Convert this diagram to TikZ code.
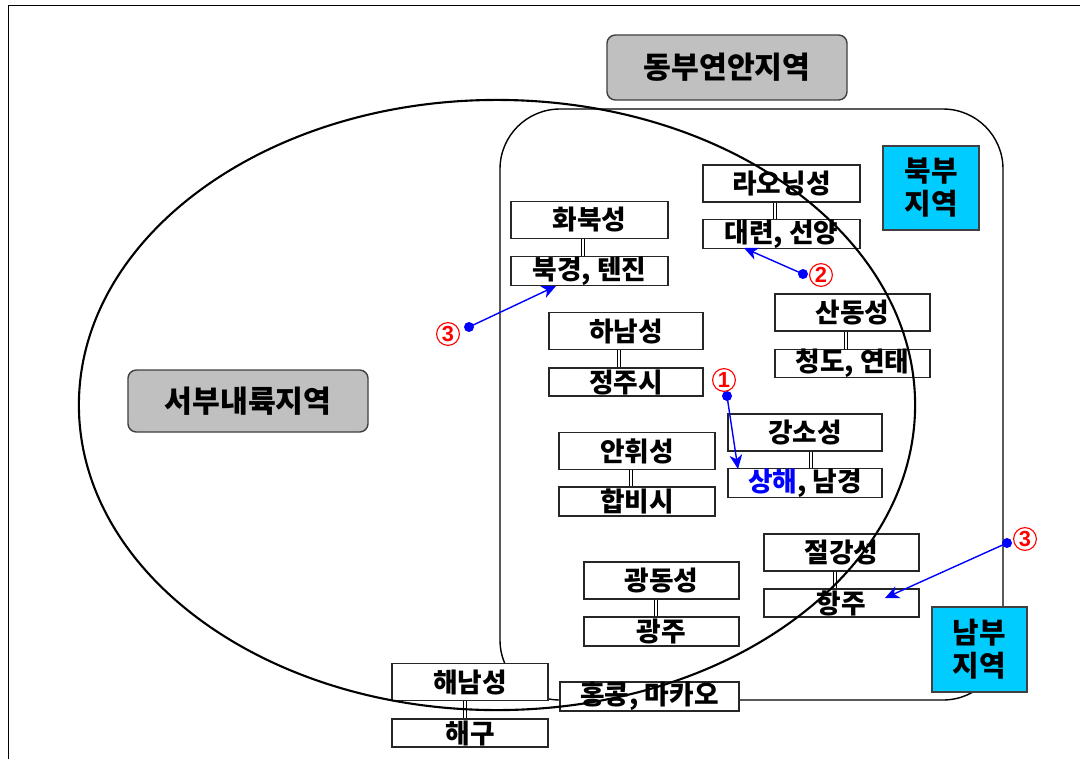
\documentclass[tikz,border=0pt]{standalone}
\usepackage{fontspec}
\newfontfamily\krfont{Noto Sans CJK KR}
\newfontfamily\latfont{Liberation Sans}
\usetikzlibrary{arrows.meta,calc}
\definecolor{boxgray}{HTML}{C0C0C0}
\definecolor{regcyan}{HTML}{00CCFF}
\definecolor{arrblue}{HTML}{0000FF}
\definecolor{numred}{HTML}{FF0000}
\tikzset{
  box/.style={draw=black!85, line width=0.9pt, fill=white, inner sep=0pt,
    minimum width=3.88cm, font=\krfont\bfseries\fontsize{19pt}{21pt}\selectfont},
  prov/.style={box, minimum height=0.92cm},
  city/.style={box, minimum height=0.7cm},
  region/.style={draw=black!75, line width=1pt, fill=boxgray, rounded corners=6pt,
    inner sep=0pt, minimum width=6cm,
    font=\krfont\bfseries\fontsize{21.5pt}{24pt}\selectfont},
  zone/.style={draw=black!75, line width=1pt, fill=regcyan, inner sep=0pt,
    align=center, font=\krfont\bfseries\fontsize{20.5pt}{23.4pt}\selectfont},
  dbl/.style={draw=black, line width=0.6pt, double=white, double distance=1.4pt},
  arr/.style={draw=arrblue, line width=1pt, -{Stealth[length=10pt,width=9pt,inset=3pt]}},
  bdot/.style={circle, fill=arrblue, inner sep=0pt, minimum size=0.25cm},
  num/.style={circle, draw=numred, line width=0.8pt, text=numred, inner sep=0pt,
    minimum size=0.57cm, font=\latfont\bfseries\fontsize{15.5pt}{15.5pt}\selectfont}
}
\begin{document}
\begin{tikzpicture}[x=0.025cm,y=-0.025cm]
\useasboundingbox (0,0) rectangle (1080,759);
% frame
\draw[line width=0.7pt] (8,759) -- (8,5) -- (1080,5);
% east coast rounded region
\draw[line width=1pt, rounded corners=1.5cm] (500,109) rectangle (1003,700);
% region labels
\node[region, minimum height=1.625cm] (east) at (727,67.5) {동부연안지역};
\node[region, minimum height=1.55cm] (west) at (248,401) {서부내륙지역};
\node[zone, minimum width=2.4cm, minimum height=2.1cm] (north) at (931,188) {북부\\지역};
\node[zone, minimum width=2.375cm, minimum height=2.125cm] (south) at (979.5,649.5) {남부\\지역};
% province / city boxes
\node[prov, minimum width=3.925cm] (hwabuk) at (589.5,220) {화북성};
\node[city, minimum width=3.925cm] (beijing) at (589.5,271) {북경, 텐진};
\node[prov, minimum width=3.925cm] (liaoning) at (781.5,183.5) {라오닝성};
\node[city, minimum width=3.925cm] (dalian) at (781.5,234) {대련, 선양};
\node[prov, minimum width=3.875cm] (shandong) at (852.5,312.5) {산동성};
\node[city, minimum width=3.875cm, minimum height=0.675cm] (qingdao) at (852.5,363.5) {청도, 연태};
\node[prov, minimum width=3.85cm] (henan) at (626,331) {하남성};
\node[city, minimum width=3.85cm] (zhengzhou) at (626,382) {정주시};
\node[prov, minimum width=3.85cm] (jiangsu) at (805,432.5) {강소성};
\node[city, minimum width=3.85cm] (shanghai) at (805,483) {{\color{arrblue}상해}, 남경};
\node[prov, minimum width=3.9cm] (anhui) at (637,451) {안휘성};
\node[city, minimum width=3.9cm, minimum height=0.725cm] (hefei) at (637,501.5) {합비시};
\node[prov, minimum width=3.875cm] (zhejiang) at (841.5,552.5) {절강성};
\node[city, minimum width=3.875cm] (hangzhou) at (841.5,603) {항주};
\node[prov, minimum width=3.875cm] (guangdong) at (661.5,580.5) {광동성};
\node[city, minimum width=3.875cm, minimum height=0.725cm] (guangzhou) at (661.5,631.5) {광주};
\node[prov, minimum width=3.9cm] (hainan) at (470,682) {해남성};
\node[city, minimum width=3.9cm] (haikou) at (470,733) {해구};
\node[city, minimum width=4.475cm, minimum height=0.725cm] (hongkong) at (649.5,696.5) {홍콩, 마카오};
% double connectors
\draw[dbl] ([xshift=-0.16cm]hwabuk.south) -- ([xshift=-0.16cm]beijing.north);
\draw[dbl] ([xshift=-0.16cm]liaoning.south) -- ([xshift=-0.16cm]dalian.north);
\draw[dbl] ([xshift=-0.16cm]shandong.south) -- ([xshift=-0.16cm]qingdao.north);
\draw[dbl] ([xshift=-0.17cm]henan.south) -- ([xshift=-0.17cm]zhengzhou.north);
\draw[dbl] ([xshift=0.15cm]jiangsu.south) -- ([xshift=0.15cm]shanghai.north);
\draw[dbl] ([xshift=-0.15cm]anhui.south) -- ([xshift=-0.15cm]hefei.north);
\draw[dbl] ([xshift=-0.16cm]zhejiang.south) -- ([xshift=-0.16cm]hangzhou.north);
\draw[dbl] ([xshift=-0.14cm]guangdong.south) -- ([xshift=-0.14cm]guangzhou.north);
\draw[dbl] ([xshift=-0.12cm]hainan.south) -- ([xshift=-0.12cm]haikou.north);
% western inland ellipse
\draw[line width=1.5pt] (497,405) ellipse [x radius=10.45cm, y radius=7.625cm];
% arrows
\node[bdot] (d1) at (727,396) {};
\node[bdot] (d2) at (803,274) {};
\node[bdot] (d3a) at (469,327) {};
\node[bdot] (d3b) at (1007,543) {};
\coordinate (t1) at (738,469);
\coordinate (t2) at (744,248);
\coordinate (t3a) at (556,286);
\coordinate (t3b) at (885,598);
\draw[arr] (d1.center) -- (t1);
\draw[arr] (d2.center) -- (t2);
\draw[arr] (d3a.center) -- (t3a);
\draw[arr] (d3b.center) -- (t3b);
% circled numbers
\node[num] (n1) at (724,380) {1};
\node[num] (n2) at (821,275) {2};
\node[num] (n3a) at (448,334) {3};
\node[num] (n3b) at (1025,539) {3};
\end{tikzpicture}
\end{document}
